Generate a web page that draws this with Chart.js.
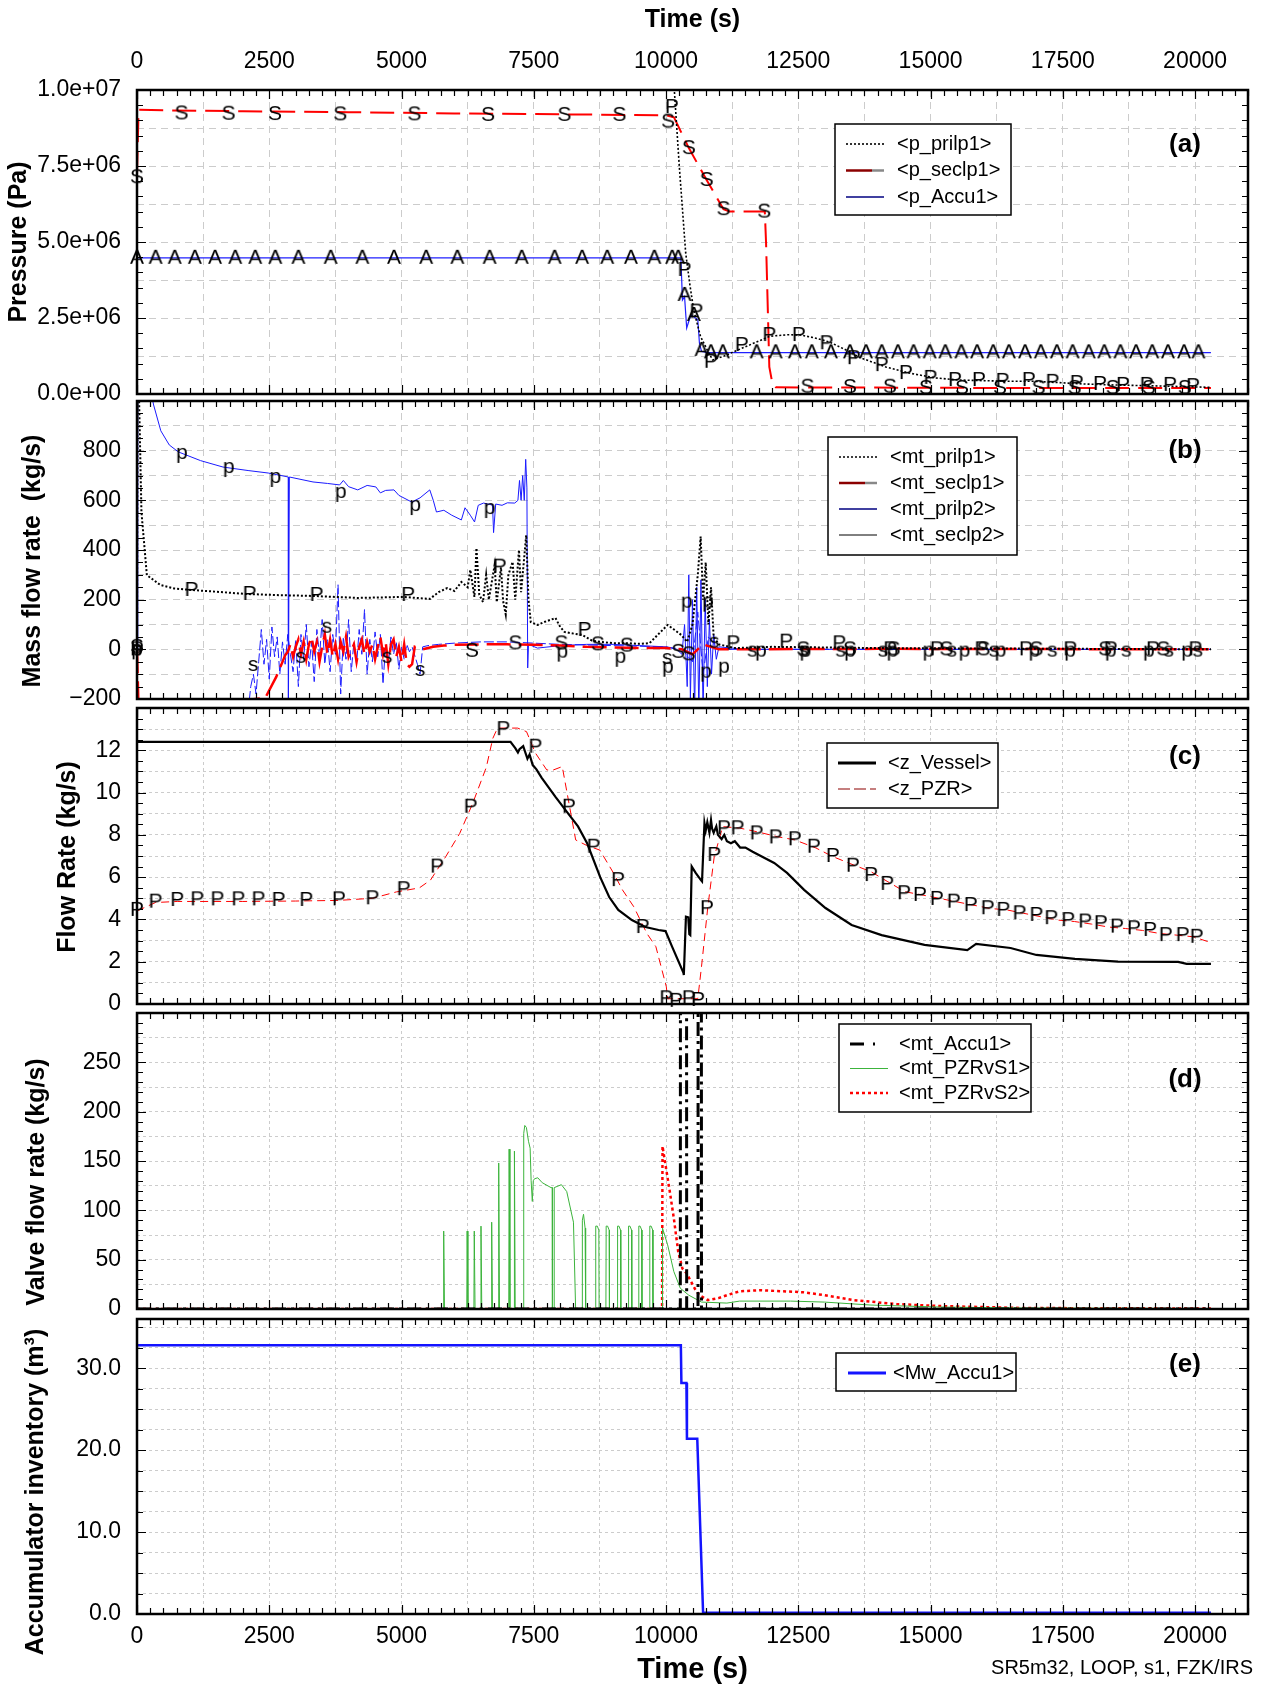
<!DOCTYPE html>
<html>
<head>
<meta charset="utf-8">
<title>SR5m32, LOOP, s1</title>
<script src="https://cdn.jsdelivr.net/npm/chart.js@4.4.1/dist/chart.umd.min.js"></script>
<style>
  body { margin: 0; background: #fff; }
  #page { position: relative; width: 1264px; height: 1687px; background: #fff; overflow: hidden; }
  #page canvas { position: absolute; left: 0; }
  .note { position: absolute; right: 11px; top: 1656px; font: 20px "Liberation Sans", Arial, sans-serif; color: #000; }
</style>
</head>
<body>
<div id="page">
  <canvas id="cA" width="1264" height="410" style="top:0px"></canvas>
  <canvas id="cB" width="1264" height="330" style="top:385px"></canvas>
  <canvas id="cC" width="1264" height="328" style="top:692px"></canvas>
  <canvas id="cD" width="1264" height="328" style="top:997px"></canvas>
  <canvas id="cE" width="1264" height="384" style="top:1303px"></canvas>
  <div class="note">SR5m32, LOOP, s1, FZK/IRS</div>
</div>
<script>
const FONT = '"Liberation Sans", Arial, Helvetica, sans-serif';
Chart.defaults.font.family = FONT;
Chart.defaults.color = '#000';

const X_MAX = 21000;
// vertical grid positions and the labelled ones
const xGrid = [0, 1250, 2500, 3750, 5000, 6250, 7500, 8750, 10000, 11250, 12500, 13750, 15000, 16250, 17500, 18750, 20000];
const xTickLabels = ['0', '2500', '5000', '7500', '10000', '12500', '15000', '17500', '20000'];

// (a) pressures, Pa  -- [time s, value]
const pPrilp1 = [[0,1.55e7],[9950,1.55e7],[10160,9.9e6],[10250,7.5e6],[10371,4.64e6],[10450,3.6e6],[10523,2.76e6],[10650,1.9e6],[10808,1.35e6],[10884,1.12e6],[11100,1.25e6],[11494,1.55e6],[11965,1.9e6],[12300,1.95e6],[12538,1.94e6],[12800,1.85e6],[13090,1.71e6],[13400,1.45e6],[13660,1.2e6],[14155,0.89e6],[14592,0.69e6],[15087,0.53e6],[15525,0.46e6],[16000,0.44e6],[16437,0.42e6],[16930,0.42e6],[17367,0.38e6],[17900,0.33e6],[18400,0.3e6],[18900,0.28e6],[19400,0.26e6],[20067,0.23e6],[20300,0.22e6]];
const pSeclp1 = [[0,7.2e6],[30,9.35e6],[500,9.33e6],[2000,9.3e6],[4000,9.27e6],[6000,9.23e6],[8000,9.2e6],[10000,9.17e6],[10150,9.1e6],[10431,8.09e6],[10767,7.04e6],[11086,6.08e6],[11200,6.0e6],[11867,6.0e6],[11890,5.0e6],[11952,0.89e6],[12010,0.35e6],[12072,0.22e6],[16000,0.2e6],[20300,0.2e6]];
const pAccu1 = [[0,4.48e6],[10280,4.48e6],[10310,3.09e6],[10350,3.2e6],[10390,2.17e6],[10468,2.6e6],[10600,2.45e6],[10631,1.67e6],[10671,1.4e6],[10800,1.36e6],[20300,1.36e6]];
const markAS = [[0,7.13e6],[842,9.23e6],[1731,9.22e6],[2608,9.21e6],[3841,9.2e6],[5243,9.2e6],[6636,9.18e6],[8079,9.18e6],[9118,9.18e6],[10039,8.96e6],[10431,8.09e6],[10767,7.04e6],[11086,6.08e6],[11856,6.0e6],[12673,0.24e6],[13475,0.23e6],[14231,0.24e6],[14912,0.2e6],[15593,0.2e6],[16312,0.2e6],[17042,0.2e6],[17722,0.2e6],[18443,0.2e6],[19124,0.2e6],[19805,0.2e6]];
const markAP = [[10109,9.44e6],[10349,4.08e6],[10574,2.71e6],[10847,1.06e6],[11432,1.61e6],[11952,1.94e6],[12510,1.94e6],[13034,1.67e6],[13550,1.18e6],[14077,0.95e6],[14534,0.69e6],[14998,0.53e6],[15462,0.46e6],[15915,0.46e6],[16360,0.43e6],[16857,0.46e6],[17305,0.4e6],[17763,0.36e6],[18203,0.33e6],[18638,0.3e6],[19085,0.3e6],[19527,0.3e6],[19962,0.26e6]];
const markAA = [[0,4.48e6],[352,4.48e6],[713,4.48e6],[1093,4.48e6],[1475,4.48e6],[1857,4.48e6],[2234,4.48e6],[2614,4.48e6],[3051,4.48e6],[3660,4.48e6],[4260,4.48e6],[4857,4.48e6],[5466,4.48e6],[6055,4.48e6],[6665,4.48e6],[7272,4.48e6],[7893,4.48e6],[8413,4.48e6],[8888,4.48e6],[9336,4.48e6],[9779,4.48e6],[10116,4.48e6],[10230,4.48e6],[10349,3.26e6],[10525,2.6e6],[10671,1.45e6],[10847,1.37e6],[11072,1.37e6],[11713,1.37e6],[12072,1.37e6],[12435,1.37e6],[12755,1.37e6],[13116,1.37e6],[13475,1.37e6],[13780,1.37e6],[14077,1.37e6],[14381,1.37e6],[14678,1.37e6],[14983,1.37e6],[15278,1.37e6],[15582,1.37e6],[15879,1.37e6],[16183,1.37e6],[16480,1.37e6],[16786,1.37e6],[17083,1.37e6],[17387,1.37e6],[17684,1.37e6],[17989,1.37e6],[18283,1.37e6],[18588,1.37e6],[18884,1.37e6],[19189,1.37e6],[19486,1.37e6],[19791,1.37e6],[20063,1.37e6]];

// (b) loop mass flow rates, kg/s
const mtPrilp1 = [[0,0],[10,1200],[40,1000],[84,553],[186,299],[441,259],[700,245],[1036,239],[1500,232],[2053,223],[2700,218],[3327,215],[4173,207],[5028,211],[5534,203],[5700,230],[5865,247],[6000,235],[6131,271],[6250,250],[6300,320],[6378,211],[6416,408],[6470,220],[6540,190],[6600,300],[6650,200],[6760,340],[6800,190],[6880,330],[6920,195],[6970,140],[7020,300],[7100,352],[7150,200],[7220,400],[7260,230],[7357,460],[7400,200],[7443,110],[7570,98],[7700,110],[7910,126],[8000,90],[8080,70],[8200,65],[8412,58],[8600,35],[8755,30],[9000,25],[9268,25],[9500,22],[9688,25],[9850,60],[10030,98],[10150,80],[10287,58],[10400,30],[10500,100],[10600,300],[10654,454],[10700,200],[10750,350],[10800,100],[10850,250],[10900,50],[11000,20],[11300,5],[12000,10],[14000,5],[20300,0]];
const mtSeclp1 = [[0,0],[30,-250],[2423,-196],[2634,-110],[2803,-23],[2850,-10],[2900,20],[2950,-30],[3000,10],[3050,40],[3100,-20],[3150,30],[3200,-40],[3250,20],[3300,50],[3350,-10],[3400,30],[3450,-50],[3500,10],[3550,60],[3600,-20],[3650,40],[3700,-30],[3750,20],[3800,-40],[3850,30],[3900,-10],[3950,50],[4000,-30],[4100,20],[4150,-50],[4200,10],[4250,40],[4300,-20],[4350,30],[4400,-10],[4450,20],[4500,-40],[4550,10],[4600,50],[4650,-20],[4700,30],[4750,-60],[4800,20],[4850,40],[4900,-30],[4950,10],[5000,-50],[5050,20],[5100,-60],[5150,-70],[5200,-60],[5250,10],[5300,5],[5400,0],[5500,5],[5600,10],[5800,15],[6000,18],[6500,20],[7000,20],[7500,18],[8000,15],[8500,10],[9000,8],[9500,5],[10000,5],[10300,0],[10500,-20],[10700,20],[11000,0],[14000,2],[20300,0]];
const mtPrilp2 = [[0,0],[15,1200],[250,1050],[314,984],[450,880],[610,823],[781,795],[1200,760],[1626,734],[2100,720],[2481,710],[2861,694],[2862,-250],[2880,694],[3327,674],[3600,668],[3831,662],[3900,680],[4000,655],[4173,642],[4350,660],[4515,654],[4600,630],[4700,640],[4857,642],[4950,620],[5194,593],[5350,610],[5534,642],[5600,600],[5660,553],[5800,560],[5950,540],[6131,521],[6200,570],[6300,540],[6380,513],[6450,580],[6550,589],[6720,581],[6740,470],[6780,585],[6900,580],[7000,590],[7140,589],[7200,600],[7230,680],[7260,600],[7290,700],[7320,600],[7347,765],[7370,650],[7385,-75],[7400,20],[7570,5],[8000,15],[8500,20],[9000,20],[9500,15],[10000,10],[10200,0],[10300,-20],[10350,100],[10400,-150],[10430,300],[10460,-200],[10500,200],[10540,-250],[10580,250],[10620,-250],[10660,280],[10700,-250],[10740,200],[10780,-150],[10820,120],[10860,-100],[10900,60],[10950,-40],[11000,10],[11500,0],[20300,0]];
const mtSeclp2 = [[0,100],[10,-250],[2100,-250],[2150,-150],[2200,-100],[2250,-180],[2300,-50],[2350,80],[2400,-60],[2450,40],[2500,-120],[2550,90],[2600,-30],[2650,50],[2700,-100],[2750,30],[2800,-60],[2850,60],[2900,-20],[2950,-90],[3000,40],[3050,-150],[3100,60],[3150,-40],[3200,100],[3250,-70],[3300,30],[3350,-130],[3400,80],[3450,-30],[3500,120],[3550,-60],[3600,40],[3650,-90],[3700,60],[3750,-20],[3800,260],[3850,-180],[3900,50],[3950,-40],[4000,120],[4050,-90],[4100,30],[4150,-60],[4200,80],[4250,-20],[4300,160],[4350,-100],[4400,40],[4450,-50],[4500,70],[4550,-30],[4600,60],[4650,-140],[4700,20],[4750,-60],[4800,50],[4850,-20],[4900,30],[4950,-80],[5000,10],[5050,-40],[5100,20],[5150,-10],[5200,10],[5300,-60],[5350,-100],[5400,10],[5500,15],[5700,20],[6000,25],[6500,30],[7000,30],[7500,25],[8000,20],[9000,15],[10000,10],[10300,0],[10500,-50],[10600,150],[10700,-100],[10800,50],[11000,0],[20300,0]];
const markBP = [[0,0],[1031,239],[2128,223],[3395,219],[5125,219],[6856,333],[8460,78],[11272,24],[12272,31],[13275,24],[14237,0],[15119,0],[15961,0],[16802,0],[17641,0],[18404,0],[19205,0],[20006,0]];
const markBp = [[0,0],[846,791],[1732,734],[2614,694],[3850,634],[5257,581],[6663,569],[8038,-9],[9135,-30],[10033,-70],[10390,192],[10752,-90],[10790,192],[11092,-70],[11792,-5],[12633,-5],[13475,-5],[14277,-5],[14958,-5],[15639,-5],[16320,-5],[16961,-5],[17636,-5],[18404,-5],[19124,-5],[19847,-5]];
const markBs = [[0,0],[2196,-63],[3098,-30],[3588,91],[4728,-30],[5352,-83],[10022,-35],[10911,31],[11631,-5],[12600,-5],[13300,-5],[14100,-5],[15400,-5],[16200,-5],[17300,-5],[18700,-5],[19500,-5],[20050,-5]];
const markBS = [[0,10],[6332,-6],[7151,24],[8021,24],[8711,20],[9258,15],[10230,-10],[10427,-20],[12594,0],[13475,0],[14300,0],[15300,0],[16000,0],[17000,0],[18300,0],[19400,0]];

// (c) levels / flow, kg/s
const zVessel = [[0,12.4],[7060,12.4],[7150,12.1],[7200,11.9],[7230,12.05],[7300,12.2],[7380,11.6],[7420,11.8],[7480,11.3],[7550,11.1],[7650,10.7],[7910,9.8],[8122,9.1],[8336,8.4],[8508,7.6],[8755,6.0],[8925,5.06],[9097,4.45],[9354,3.97],[9610,3.64],[9858,3.5],[9990,3.45],[10116,2.7],[10329,1.47],[10336,1.37],[10376,4.13],[10420,4.1],[10440,3.3],[10458,3.26],[10485,6.5],[10560,6.2],[10656,5.87],[10680,5.8],[10726,8.56],[10750,8.2],[10780,8.6],[10820,8.1],[10850,8.7],[10870,8.3],[10900,8.1],[10950,8.4],[10980,8.0],[11050,7.8],[11100,8.0],[11150,7.7],[11226,7.6],[11300,7.7],[11400,7.4],[11500,7.4],[11637,7.2],[12044,6.67],[12287,6.2],[12610,5.4],[13014,4.54],[13508,3.74],[14074,3.26],[14886,2.8],[15694,2.55],[15861,2.84],[16512,2.65],[17000,2.32],[17728,2.13],[18543,2.0],[19680,1.99],[19840,1.9],[20300,1.9]];
const zPZR = [[0,4.4],[350,4.8],[760,4.85],[2000,4.85],[3000,4.87],[3811,4.9],[4450,5.0],[4900,5.3],[5336,5.49],[5547,5.86],[5836,6.97],[6100,8.07],[6347,9.5],[6603,11.2],[6725,12.56],[6814,13.05],[7195,13.05],[7363,12.88],[7531,11.87],[7745,11.07],[7870,11.07],[8038,11.23],[8292,7.76],[8500,7.5],[8748,7.28],[9008,6.19],[9178,5.39],[9390,4.6],[9637,3.34],[9808,2.71],[10005,0.82],[10030,0.25],[10600,0.25],[10670,1.76],[10790,4.6],[10911,6.97],[11071,8.39],[11391,8.32],[11713,8.15],[12113,7.91],[12435,7.76],[12832,7.38],[13153,6.97],[13551,6.57],[13872,6.26],[14194,5.78],[14515,5.31],[14836,5.16],[15157,5.0],[15479,4.84],[15800,4.68],[16120,4.52],[16441,4.45],[16760,4.29],[17081,4.13],[17400,3.97],[17722,3.9],[18042,3.78],[18364,3.64],[18684,3.57],[19005,3.48],[19320,3.34],[19640,3.26],[19963,3.18],[20245,2.95]];
const markCP = [[0,4.45],[350,4.84],[760,4.92],[1140,4.95],[1520,4.95],[1916,4.95],[2296,4.95],[2676,4.92],[3200,4.92],[3816,4.95],[4450,5.0],[5040,5.43],[5674,6.5],[6307,9.33],[6924,13.0],[7531,12.17],[8164,9.33],[8630,7.44],[9093,5.86],[9558,3.64],[10005,0.27],[10190,0.15],[10430,0.27],[10606,0.19],[10774,4.53],[10911,7.05],[11096,8.31],[11351,8.31],[11713,8.07],[12072,7.88],[12435,7.79],[12794,7.44],[13153,7.0],[13532,6.54],[13876,6.1],[14181,5.68],[14500,5.24],[14799,5.16],[15119,4.97],[15439,4.84],[15760,4.68],[16080,4.53],[16376,4.45],[16681,4.29],[17001,4.21],[17282,4.06],[17602,3.97],[17923,3.9],[18219,3.82],[18525,3.66],[18845,3.58],[19149,3.5],[19446,3.26],[19766,3.26],[20031,3.18]];

// (d) valve flow rates, kg/s
const mtAccu1 = [[0,0],[10270,0],[10272,330],[10388,330],[10390,0],[10604,0],[10606,330],[10668,330],[10670,0],[20300,0]];
const mtPZRvS1 = [[0,0],[5790,0],[5797,79],[5812,0],[6233,0],[6240,79],[6255,0],[6368,0],[6375,79],[6390,0],[6495,0],[6502,84],[6517,0],[6697,0],[6704,88],[6719,0],[6830,0],[6837,148],[6852,0],[7027,0],[7034,162],[7049,0],[7127,0],[7134,160],[7149,0],[7303,0],[7310,178],[7330,186],[7360,184],[7400,170],[7431,163],[7450,130],[7472,109],[7490,130],[7514,132],[7575,133],[7660,128],[7826,123],[7850,123],[7852,0],[7884,0],[7886,123],[8022,126],[8123,119],[8250,88],[8291,0],[8413,0],[8418,90],[8440,96],[8470,82],[8480,0],[8666,0],[8671,84],[8700,84],[8730,80],[8735,0],[8863,0],[8868,84],[8895,84],[8925,80],[8930,0],[9079,0],[9084,84],[9110,84],[9140,80],[9145,0],[9287,0],[9292,84],[9318,84],[9348,80],[9353,0],[9480,0],[9485,84],[9510,84],[9540,80],[9545,0],[9688,0],[9693,84],[9718,84],[9748,80],[9753,0],[9928,0],[9933,82],[10030,65],[10147,38],[10270,21],[10430,14],[10670,7],[11150,6],[11391,8],[12354,8],[12995,7],[13872,4],[15157,2],[16760,1],[20300,0.5]];
const mtPZRvS2 = [[0,0],[9925,0],[9933,165],[9990,146],[10071,119],[10147,92],[10230,58],[10310,41],[10391,36],[10470,28],[10550,20],[10630,14],[10790,9],[10990,11],[11150,14],[11391,18],[11792,19],[12190,18],[12590,17],[12995,14],[13551,9],[14356,5],[15157,3],[16760,1],[20300,0.5]];

// (e) accumulator inventory, m3
const mwAccu1 = [[0,32.8],[10280,32.8],[10290,28.2],[10385,28.2],[10395,21.4],[10590,21.4],[10700,0.15],[20300,0.15]];

function expLabel(v) {
  if (v === 0) return '0.0e+00';
  const e = Math.floor(Math.log10(v) + 1e-9);
  return (v / Math.pow(10, e)).toFixed(1) + 'e+' + String(e).padStart(2, '0');
}
const isMult = (v, m) => Math.abs(v / m - Math.round(v / m)) < 1e-6;

// small canvas with one letter, used as point style for the curve markers
function letter(ch) {
  const c = document.createElement('canvas');
  c.width = 18; c.height = 26;
  const g = c.getContext('2d');
  g.font = '21px ' + FONT;
  g.fillStyle = '#000';
  g.textAlign = 'center';
  g.textBaseline = 'middle';
  g.fillText(ch, 9, 13);
  return c;
}

function series(label, data, color, width, dash) {
  return { label, data, borderColor: color, borderWidth: width, borderDash: dash || [],
           pointRadius: 0, tension: 0, fill: false, clip: 0, order: 1 };
}
function marks(label, data, ch) {
  return { label, data, showLine: false, pointStyle: letter(ch), pointRadius: 4, clip: false, order: 0 };
}

function innerTicks(ctx, a, scale, step, major, horizontal) {
  const n = Math.round((scale.max - scale.min) / step);
  for (let i = 0; i <= n; i++) {
    const v = scale.min + i * step;
    const len = isMult(v, major) ? 9 : 6;
    const p = Math.round(scale.getPixelForValue(v)) + 0.5;
    if (horizontal) {
      ctx.moveTo(p, a.top); ctx.lineTo(p, a.top + len);
      ctx.moveTo(p, a.bottom); ctx.lineTo(p, a.bottom - len);
    } else {
      ctx.moveTo(a.left, p); ctx.lineTo(a.left + len, p);
      ctx.moveTo(a.right, p); ctx.lineTo(a.right - len, p);
    }
  }
}

// frame, inward ticks, boxed legend, panel letter and y title
const panelDeco = {
  id: 'panelDeco',
  afterDraw(chart, args, o) {
    const { ctx, chartArea: a, scales: { x, y } } = chart;
    const dy = o.top;
    ctx.save();
    ctx.strokeStyle = '#000';
    ctx.lineWidth = 1.2;
    ctx.setLineDash([]);
    ctx.beginPath();
    innerTicks(ctx, a, x, 250, 2500, true);
    innerTicks(ctx, a, y, o.yMinor, o.yMajor, false);
    ctx.stroke();
    ctx.lineWidth = 2.5;
    ctx.strokeRect(a.left, a.top, a.right - a.left, a.bottom - a.top);

    const L = o.legend;
    ctx.fillStyle = '#fff';
    ctx.fillRect(L.x, L.y - dy, L.w, L.h);
    ctx.lineWidth = 1.5;
    ctx.strokeRect(L.x, L.y - dy, L.w, L.h);
    ctx.font = '20px ' + FONT;
    ctx.textAlign = 'left';
    ctx.textBaseline = 'middle';
    L.rows.forEach((r, i) => {
      const ry = L.row0 + i * L.gap - dy;
      ctx.beginPath();
      ctx.setLineDash(r.dash || []);
      ctx.lineWidth = r.width;
      ctx.strokeStyle = r.color;
      ctx.moveTo(L.sx, ry);
      ctx.lineTo(L.sx + (r.tail ? 26 : 38), ry);
      ctx.stroke();
      if (r.tail) {
        ctx.beginPath();
        ctx.setLineDash([]);
        ctx.strokeStyle = r.tail;
        ctx.moveTo(L.sx + 26, ry); ctx.lineTo(L.sx + 38, ry);
        ctx.stroke();
      }
      ctx.setLineDash([]);
      ctx.fillStyle = '#000';
      ctx.fillText(r.text, L.tx, ry);
    });

    ctx.font = 'bold 26px ' + FONT;
    ctx.textAlign = 'center';
    ctx.fillText(o.tag, 1185, o.tagY - dy);

    ctx.translate(o.title.x, o.title.y - dy);
    ctx.rotate(-Math.PI / 2);
    ctx.font = 'bold 25px ' + FONT;
    ctx.fillText(o.title.text, 0, 0);
    ctx.restore();
  }
};

function xAxis(pos, dash) {
  const shown = pos !== 'none';
  return {
    type: 'linear', min: 0, max: X_MAX, position: pos === 'top' ? 'top' : 'bottom',
    afterBuildTicks(s) { s.ticks = xGrid.map(v => ({ value: v })); },
    afterFit(s) { s.height = pos === 'top' ? 90 : (pos === 'bottom' ? 73 : 0); s.paddingLeft = 0; s.paddingRight = 0; },
    ticks: {
      display: shown, autoSkip: false, maxRotation: 0, minRotation: 0,
      padding: pos === 'top' ? 15 : 9, font: { size: 23 },
      callback: v => xTickLabels.includes(String(v)) ? String(v) : ''
    },
    grid: { color: '#cccccc', lineWidth: 1, drawTicks: false },
    border: { display: false, dash },
    title: {
      display: shown, text: 'Time (s)',
      font: { size: pos === 'top' ? 25 : 29, weight: 'bold' },
      padding: pos === 'top' ? { top: 5, bottom: 0 } : { top: 0, bottom: 0 }
    }
  };
}

function yAxis(min, max, step, fmt, dash) {
  return {
    type: 'linear', min, max,
    afterFit(s) { s.width = 137; s.paddingTop = 0; s.paddingBottom = 0; },
    ticks: { stepSize: step, autoSkip: false, includeBounds: false, padding: 16, font: { size: 23 }, callback: fmt },
    grid: { color: '#cccccc', lineWidth: 1, drawTicks: false },
    border: { display: false, dash }
  };
}

function panel(id, top, o) {
  return new Chart(document.getElementById(id), {
    type: 'line',
    data: { datasets: o.datasets },
    options: {
      responsive: false, animation: false, events: [],
      layout: { padding: { left: 0, right: 16, top: o.padTop, bottom: o.padBottom } },
      plugins: {
        legend: { display: false }, tooltip: { enabled: false },
        panelDeco: Object.assign({ top }, o.deco)
      },
      scales: { x: xAxis(o.xPos, o.dash), y: o.y }
    },
    plugins: [panelDeco]
  });
}

const DASH_A = [7, 5], DASH_C = [3, 3];

panel('cA', 0, {
  padTop: 0, padBottom: 16, xPos: 'top', dash: DASH_A,
  y: yAxis(0, 1e7, 1.25e6, v => isMult(v, 2.5e6) ? expLabel(v) : '', DASH_A),
  datasets: [
    series('p_prilp1', pPrilp1, '#000000', 1.6, [2, 2]),
    series('p_seclp1', pSeclp1, '#ff0000', 2, [24, 9]),
    series('p_Accu1', pAccu1, '#2020ff', 1.2),
    marks('S', markAS, 'S'), marks('P', markAP, 'P'), marks('A', markAA, 'A')
  ],
  deco: {
    yMinor: 0.5e6, yMajor: 2.5e6, tag: '(a)', tagY: 145,
    title: { text: 'Pressure (Pa)', x: 19, y: 242 },
    legend: { x: 835, y: 124, w: 176, h: 91, row0: 144, gap: 26.5, sx: 846, tx: 897, rows: [
      { text: '<p_prilp1>', color: '#000', width: 1.6, dash: [2, 2] },
      { text: '<p_seclp1>', color: '#8b0000', width: 2.5, tail: '#888888' },
      { text: '<p_Accu1>', color: '#000080', width: 1.6 }
    ] }
  }
});

panel('cB', 385, {
  padTop: 16, padBottom: 16, xPos: 'none', dash: DASH_A,
  y: yAxis(-200, 1000, 100, v => (isMult(v, 200) && v < 1000) ? (v < 0 ? '\u2212' + (-v) : String(v)) : '', DASH_A),
  datasets: [
    series('mt_prilp1', mtPrilp1, '#000000', 2, [2, 2]),
    series('mt_seclp1', mtSeclp1, '#ff0000', 2.5, [24, 8]),
    series('mt_prilp2', mtPrilp2, '#1a1aff', 1),
    series('mt_seclp2', mtSeclp2, '#1a1aff', 1, [10, 3]),
    marks('P', markBP, 'P'), marks('p', markBp, 'p'), marks('s', markBs, 's'), marks('S', markBS, 'S')
  ],
  deco: {
    yMinor: 50, yMajor: 200, tag: '(b)', tagY: 451,
    title: { text: 'Mass flow rate  (kg/s)', x: 33, y: 561 },
    legend: { x: 828, y: 437, w: 189, h: 118, row0: 457, gap: 26, sx: 839, tx: 890, rows: [
      { text: '<mt_prilp1>', color: '#000', width: 1.6, dash: [2, 2] },
      { text: '<mt_seclp1>', color: '#8b0000', width: 2.5, tail: '#888888' },
      { text: '<mt_prilp2>', color: '#000080', width: 1.6 },
      { text: '<mt_seclp2>', color: '#000', width: 1 }
    ] }
  }
});

panel('cC', 692, {
  padTop: 16, padBottom: 16, xPos: 'none', dash: DASH_C,
  y: yAxis(0, 14, 1, v => (isMult(v, 2) && v < 14) ? String(v) : '', DASH_C),
  datasets: [
    series('z_Vessel', zVessel, '#000000', 2.2),
    series('z_PZR', zPZR, '#ff0000', 1, [8, 5]),
    marks('P', markCP, 'P')
  ],
  deco: {
    yMinor: 0.5, yMajor: 2, tag: '(c)', tagY: 757,
    title: { text: 'Flow Rate (kg/s)', x: 68, y: 857 },
    legend: { x: 827, y: 743, w: 171, h: 65, row0: 763, gap: 26, sx: 838, tx: 888, rows: [
      { text: '<z_Vessel>', color: '#000', width: 3 },
      { text: '<z_PZR>', color: '#8b0000', width: 1.2, dash: [12, 4] }
    ] }
  }
});

panel('cD', 997, {
  padTop: 16, padBottom: 16, xPos: 'none', dash: DASH_C,
  y: yAxis(0, 300, 25, v => (isMult(v, 50) && v < 300) ? String(v) : '', DASH_C),
  datasets: [
    series('mt_Accu1', mtAccu1, '#000000', 3, [14, 5, 3, 5]),
    series('mt_PZRvS1', mtPZRvS1, '#3cb43c', 1),
    series('mt_PZRvS2', mtPZRvS2, '#ff0000', 2.5, [3, 3])
  ],
  deco: {
    yMinor: 10, yMajor: 50, tag: '(d)', tagY: 1080,
    title: { text: 'Valve flow rate (kg/s)', x: 37, y: 1182 },
    legend: { x: 839, y: 1024, w: 192, h: 88, row0: 1044, gap: 24.5, sx: 850, tx: 899, rows: [
      { text: '<mt_Accu1>', color: '#000', width: 3, dash: [14, 9, 2, 20] },
      { text: '<mt_PZRvS1>', color: '#3cb43c', width: 1 },
      { text: '<mt_PZRvS2>', color: '#ff0000', width: 2.5, dash: [3, 3] }
    ] }
  }
});

panel('cE', 1303, {
  padTop: 16, padBottom: 0, xPos: 'bottom', dash: DASH_C,
  y: yAxis(0, 36, 2.5, v => isMult(v, 10) ? v.toFixed(1) : '', DASH_C),
  datasets: [
    series('Mw_Accu1', mwAccu1, '#1414ff', 2.5)
  ],
  deco: {
    yMinor: 2.5, yMajor: 10, tag: '(e)', tagY: 1365,
    title: { text: 'Accumulator inventory (m\u00b3)', x: 36, y: 1492 },
    legend: { x: 836, y: 1353, w: 180, h: 38, row0: 1373, gap: 26, sx: 848, tx: 893, rows: [
      { text: '<Mw_Accu1>', color: '#1414ff', width: 3 }
    ] }
  }
});
</script>
</body>
</html>
